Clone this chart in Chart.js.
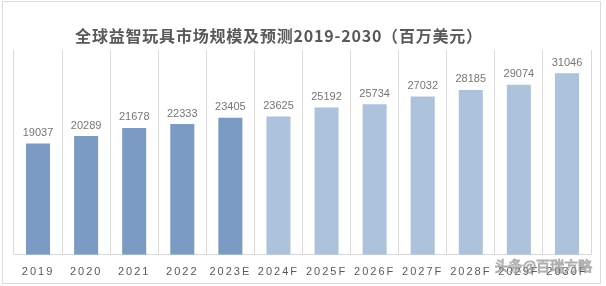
<!DOCTYPE html>
<html>
<head>
<meta charset="utf-8">
<script src="https://cdn.jsdelivr.net/npm/chart.js@4/dist/chart.umd.min.js"></script>
<style>
  html, body { margin: 0; padding: 0; background: #fff; }
  #wrap { position: relative; width: 606px; height: 286px; }
  #frame { position: absolute; left: 2px; top: 1px; width: 597px; height: 281px; border: 1px solid #dcdcdc; }
  canvas { position: absolute; left: 0; top: 0; }
</style>
</head>
<body>
<div id="wrap">
  <div id="frame"></div>
  <canvas id="mycanvas" width="606" height="286"></canvas>
</div>
<script>
var years = ['2019', '2020', '2021', '2022', '2023E', '2024F', '2025F', '2026F', '2027F', '2028F', '2029F', '2030F'];
var marketSize = [19037, 20289, 21678, 22333, 23405, 23625, 25192, 25734, 27032, 28185, 29074, 31046];
var titleText = '全球益智玩具市场规模及预测2019-2030（百万美元）';
var watermark = '头条@百瑞方略';

// actual years darker, forecast lighter
var barColors = [];
for (var i in years) {
  if (years[i].indexOf('F') > -1) barColors.push('#adc2dc');
  else barColors.push('#7b9bc4');
}

var extras = {
  id: 'extras',
  beforeDraw: function(chart) {
    chart.ctx.letterSpacing = '2px';
  },
  afterDatasetsDraw: function(chart) {
    var ctx = chart.ctx;
    var meta = chart.getDatasetMeta(0);
    ctx.save();
    ctx.letterSpacing = '0px';
    ctx.font = '11px "Liberation Sans", Arial, sans-serif';
    ctx.fillStyle = '#767676';
    ctx.textAlign = 'center';
    ctx.textBaseline = 'bottom';
    for (var i = 0; i < meta.data.length; i++) {
      var bar = meta.data[i];
      ctx.fillText(String(marketSize[i]), bar.x, bar.y - 5);
    }
    ctx.restore();
  },
  afterDraw: function(chart) {
    var ctx = chart.ctx;
    ctx.save();
    ctx.letterSpacing = '0.8px';
    ctx.font = 'bold 16px "Noto Sans CJK SC", sans-serif';
    ctx.fillStyle = '#595959';
    ctx.textAlign = 'center';
    ctx.textBaseline = 'middle';
    ctx.fillText(titleText, 279, 36);

    // watermark
    ctx.letterSpacing = '0px';
    ctx.font = '14px "Noto Sans CJK SC", sans-serif';
    ctx.textAlign = 'right';
    ctx.lineWidth = 1;
    ctx.strokeStyle = 'rgba(110,110,110,0.55)';
    ctx.fillStyle = 'rgba(255,255,255,0.75)';
    ctx.fillText(watermark, 592, 266);
    ctx.strokeText(watermark, 592, 266);
    ctx.restore();
    ctx.letterSpacing = '0px';
  }
};

var ctx = document.getElementById('mycanvas');
var chart = new Chart(ctx, {
  type: 'bar',
  data: {
    labels: years,
    datasets: [{
      data: marketSize,
      backgroundColor: barColors,
      borderWidth: 0,
      categoryPercentage: 1,
      barPercentage: 0.5
    }]
  },
  options: {
    responsive: false,
    animation: false,
    layout: { padding: { left: 14, right: 15, top: 50, bottom: -4 } },
    plugins: {
      legend: { display: false },
      tooltip: { enabled: false },
      title: { display: false }
    },
    scales: {
      x: {
        grid: { display: true, offset: true, color: '#d9d9d9', drawTicks: false },
        border: { display: true, color: '#d9d9d9' },
        ticks: {
          color: '#595959',
          padding: 11,
          maxRotation: 0,
          autoSkip: false,
          font: { size: 11, family: '"Liberation Sans", Arial, sans-serif' }
        }
      },
      y: {
        display: false,
        min: 0,
        max: 35000
      }
    }
  },
  plugins: [extras]
});
</script>
</body>
</html>
